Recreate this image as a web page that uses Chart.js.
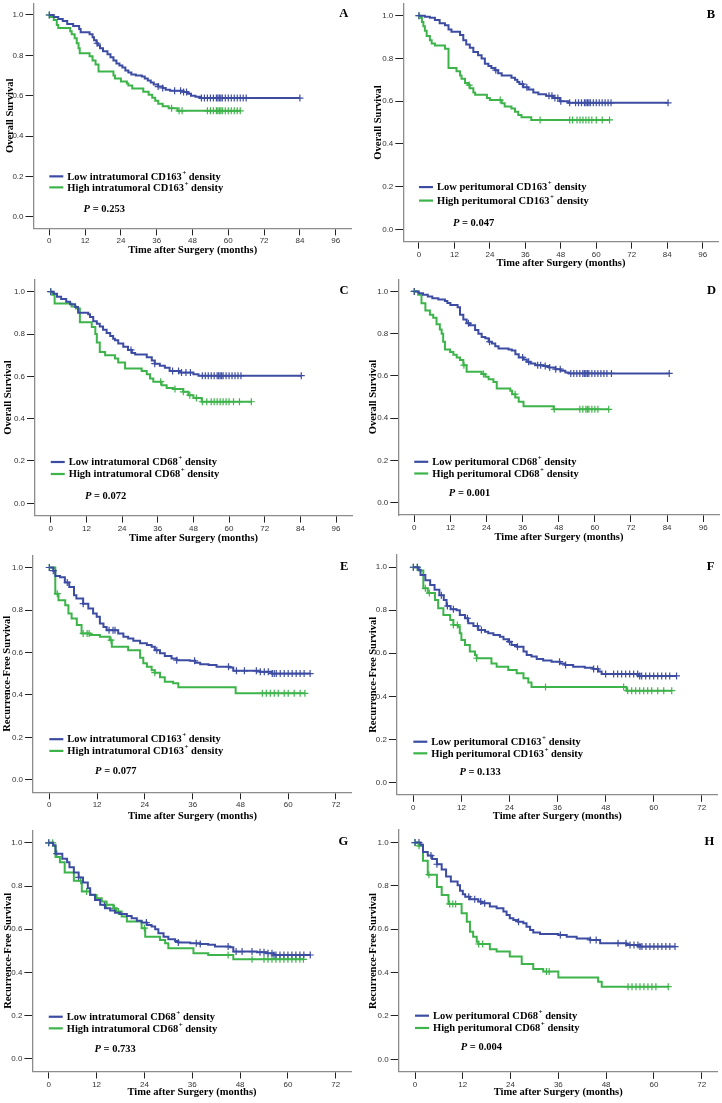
<!DOCTYPE html>
<html>
<head>
<meta charset="utf-8">
<script src="https://cdn.jsdelivr.net/npm/chart.js@4.4.1/dist/chart.umd.min.js"></script>
<style>
  body { margin: 0; background: #fff; width: 722px; height: 1103px; position: relative; overflow: hidden; }
  canvas { position: absolute; }
</style>
</head>
<body>
<script>
// tick labels
const osTicks = [0, 12, 24, 36, 48, 60, 72, 84, 96];
const rfsTicks = [0, 12, 24, 36, 48, 60, 72];
const survTicks = [0, 0.2, 0.4, 0.6, 0.8, 1.0];

const panelLetters = ['A', 'B', 'C', 'D', 'E', 'F', 'G', 'H'];
const yTitles = ['Overall Survival', 'Overall Survival', 'Overall Survival', 'Overall Survival',
  'Recurrence-Free Survival', 'Recurrence-Free Survival', 'Recurrence-Free Survival', 'Recurrence-Free Survival'];
const lowLabels = ['Low intratumoral CD163', 'Low peritumoral CD163', 'Low intratumoral CD68', 'Low peritumoral CD68',
  'Low intratumoral CD163', 'Low peritumoral CD163', 'Low intratumoral CD68', 'Low peritumoral CD68'];
const highLabels = ['High intratumoral CD163', 'High peritumoral CD163', 'High intratumoral CD68', 'High peritumoral CD68',
  'High intratumoral CD163', 'High peritumoral CD163', 'High intratumoral CD68', 'High peritumoral CD68'];
const pValues = ['0.253', '0.047', '0.072', '0.001', '0.077', '0.133', '0.733', '0.004'];

// KM steps: [month, survival after the drop]; censor times in months
const aLow = [[0,1],[1.5,0.99],[3,0.98],[4.5,0.97],[6,0.955],[8,0.945],[10,0.93],[10.5,0.915],[13.5,0.905],[14.5,0.89],[15,0.875],[15.8,0.86],[16.3,0.85],[17,0.835],[18,0.82],[19.5,0.805],[20.5,0.79],[21.5,0.775],[22.5,0.76],[23.5,0.75],[24.5,0.74],[25.5,0.725],[26.5,0.715],[27.5,0.705],[29,0.7],[31,0.695],[32,0.685],[33,0.675],[34,0.665],[35,0.655],[36.5,0.645],[38,0.638],[39,0.63],[40.5,0.625],[45,0.618],[46.5,0.61],[47.5,0.6],[49,0.595],[50.5,0.588],[84,0.588]];
const aLowCens = [0,16,36.5,38,42,44,45,46,51,52,53,54,55,56,56.5,57,57.5,58,59,60,61,62,63,64,65,66,84];
const aHigh = [[0,1],[0.5,0.99],[1.5,0.975],[2.5,0.95],[3,0.935],[7,0.92],[7.5,0.905],[8.5,0.885],[9.2,0.86],[9.8,0.835],[10.2,0.81],[13.5,0.795],[14.5,0.775],[15.5,0.755],[16.5,0.72],[21.5,0.7],[22,0.685],[24,0.67],[26,0.66],[26.5,0.65],[27.8,0.635],[31.5,0.62],[33.3,0.605],[34.5,0.59],[35.5,0.575],[36.5,0.56],[38,0.548],[40,0.538],[43,0.525],[64,0.525]];
const aHighCens = [0,41,43.5,44.5,53,54,55,56,56.5,57,57.5,58,59,60,61,62,63,64];

const bLow = [[0,1],[2,0.995],[3.7,0.99],[5.4,0.98],[7,0.965],[8.8,0.955],[10,0.935],[11,0.925],[13.9,0.91],[15,0.885],[16,0.865],[17.2,0.85],[18.4,0.83],[20,0.815],[21.2,0.8],[22.3,0.775],[23.5,0.765],[24.5,0.755],[25.7,0.745],[26.8,0.73],[28,0.72],[31.3,0.71],[32.5,0.7],[33.3,0.69],[34,0.68],[35.3,0.665],[37,0.655],[38.7,0.64],[40.4,0.632],[43,0.625],[45.4,0.615],[47.7,0.6],[50.5,0.592],[84.3,0.592]];
const bLowCens = [0,26,35,36.5,44,45,46,47,48,51,53,54,55,56,56.5,57,57.5,58,59,60,61,62,63,64,65,84.3];
const bHigh = [[0,1],[0.5,0.99],[1,0.97],[1.5,0.95],[2,0.93],[2.6,0.905],[3.7,0.885],[4.3,0.87],[5.4,0.86],[8.8,0.845],[10,0.755],[12.7,0.74],[13.9,0.72],[14.4,0.705],[15.6,0.685],[16.7,0.675],[17.2,0.66],[18.4,0.64],[19,0.63],[23,0.615],[24,0.605],[28,0.59],[29,0.575],[31.3,0.565],[32.5,0.55],[33.6,0.535],[34.7,0.525],[38,0.512],[64.5,0.512]];
const bHighCens = [0,17,27.5,41,51,52,53.5,54.5,55.5,56.5,57.5,58.5,60,62,64.5];

const cLow = [[0,1],[1,0.99],[2.1,0.976],[3.5,0.965],[5.2,0.952],[6.5,0.94],[8.2,0.928],[9.2,0.9],[12.6,0.893],[13.2,0.88],[14.3,0.86],[15.5,0.848],[16.5,0.835],[17.6,0.82],[18.8,0.805],[20,0.79],[21,0.778],[21.6,0.77],[22.7,0.755],[24.4,0.74],[26,0.725],[27.3,0.71],[28.4,0.703],[32.3,0.69],[34,0.675],[35,0.66],[36.7,0.65],[38.4,0.64],[40,0.625],[43.5,0.618],[48,0.61],[49.7,0.603],[84.3,0.603]];
const cLowCens = [0,27,35,41,43,44,45.5,47,51,52,53,54,55,56,56.5,57,57.5,58,59,60,61,62,63,64,84.3];
const cHigh = [[0,1],[0.5,0.985],[1.3,0.944],[7,0.93],[8.5,0.92],[9.8,0.855],[13.8,0.833],[15,0.8],[15.5,0.76],[16.5,0.715],[18.3,0.7],[21.6,0.684],[22.7,0.665],[25,0.637],[30.6,0.625],[32.3,0.61],[33.4,0.59],[34.5,0.575],[37.3,0.558],[39,0.545],[41.3,0.54],[44.6,0.527],[46.3,0.511],[48,0.498],[50.8,0.48],[67.5,0.48]];
const cHighCens = [0,37,41.8,44.6,46.8,49,51,52.5,54,55,56,57,58,59,60,61.5,63.5,67.5];

const dLow = [[0,1],[1.5,0.992],[2.9,0.984],[4.5,0.976],[6,0.968],[8,0.962],[10.2,0.955],[11,0.945],[12,0.936],[14.4,0.925],[15.2,0.89],[16.3,0.867],[17.4,0.85],[18.5,0.84],[20.2,0.817],[21.3,0.8],[22.4,0.785],[23.6,0.778],[24.7,0.762],[25.8,0.754],[26.9,0.741],[28,0.73],[31.3,0.725],[32.4,0.72],[33.6,0.703],[34.7,0.688],[36.3,0.678],[37.4,0.667],[38.6,0.659],[40.2,0.651],[43,0.647],[44.7,0.64],[46.9,0.632],[48.6,0.625],[50.2,0.617],[51.3,0.612],[84.7,0.612]];
const dLowCens = [0,18,25,36,38,41,42,43.5,45,47,48.5,52,53,54,55,56,56.5,57,57.5,58,59,60,61,62,63,64,65.5,84.7];
const dHigh = [[0,1],[1.3,0.984],[2.4,0.944],[3.7,0.91],[5.2,0.89],[6.3,0.875],[7.4,0.845],[8.5,0.82],[9.1,0.8],[9.6,0.762],[10.2,0.725],[11.9,0.714],[13,0.7],[14.1,0.688],[15.2,0.675],[16.3,0.651],[17.4,0.62],[22.4,0.609],[23.6,0.596],[24.7,0.585],[26.3,0.572],[27.4,0.541],[31.9,0.53],[32.5,0.514],[33.6,0.498],[34.7,0.478],[36.3,0.457],[46.3,0.442],[64.6,0.442]];
const dHighCens = [0,16.5,23,33.5,46.5,55,56,57,57.5,58,59,60,61,64.6];

const eLow = [[0,1],[1,0.985],[1.5,0.96],[2.7,0.954],[3.9,0.93],[5,0.908],[6.2,0.87],[6.8,0.854],[8.5,0.83],[9.8,0.807],[11,0.784],[11.9,0.768],[12.7,0.737],[13.6,0.72],[14.4,0.705],[17.3,0.69],[18.6,0.674],[19.8,0.666],[21.1,0.655],[22.8,0.643],[24.5,0.635],[25.7,0.627],[26.5,0.611],[27.8,0.596],[29,0.583],[30.7,0.572],[32,0.564],[35.3,0.561],[36.6,0.552],[37.9,0.545],[40,0.541],[42,0.533],[45.4,0.53],[46.2,0.514],[52.9,0.509],[55.9,0.501],[65.5,0.501]];
const eLowCens = [0,1,4.5,8.5,15,16,16.5,27,32,36.5,45,47,49,52,53,54,55,56,56.5,57,58,59,60,61,62,63,64,65.5];
const eHigh = [[0,1],[1.5,0.877],[2.3,0.846],[4,0.823],[4.8,0.784],[5.6,0.76],[6.9,0.729],[8.1,0.69],[10.2,0.682],[12.7,0.674],[15.2,0.658],[15.7,0.627],[19.8,0.611],[22.8,0.575],[23.6,0.549],[24.5,0.533],[25.7,0.517],[26.5,0.505],[27.8,0.483],[29,0.462],[31.1,0.455],[32.4,0.436],[46.8,0.408],[64.2,0.408]];
const eHighCens = [0,2,8.5,9.5,10,15.5,26.5,53.5,54.5,55.5,56.5,57.5,59,60,61.5,63,64.2];

const fLow = [[0,1],[1.3,0.988],[1.8,0.964],[3,0.94],[4.2,0.918],[5.3,0.895],[6.5,0.87],[7.6,0.848],[8.3,0.82],[9.3,0.805],[10.8,0.8],[11.6,0.778],[12.9,0.763],[13.7,0.74],[15,0.727],[16.2,0.708],[17.9,0.7],[18.7,0.693],[20,0.685],[21.6,0.677],[22.5,0.665],[23.7,0.654],[24.5,0.639],[25.8,0.631],[27.5,0.608],[28.3,0.592],[29.5,0.585],[30.8,0.574],[32.4,0.566],[34.5,0.561],[36.6,0.553],[37.9,0.546],[39.9,0.538],[42.8,0.533],[44.9,0.527],[46.2,0.515],[47,0.504],[56.2,0.495],[65.7,0.495]];
const fLowCens = [0,1,7,8.5,10,13.5,16,17,24,26,36.5,38,45,46,48,50,51,52,53,54,55,56,56.5,57,58,59,60,61,62,63,64,65.7];
const fHigh = [[0,1],[1.3,0.985],[2.5,0.902],[3.6,0.88],[5.4,0.848],[6.2,0.81],[7.5,0.778],[9.2,0.755],[10,0.732],[11.2,0.724],[11.6,0.693],[12,0.662],[12.9,0.639],[14.1,0.608],[15.4,0.592],[15.8,0.577],[19.5,0.553],[20.8,0.538],[23.7,0.522],[25.8,0.507],[27.5,0.484],[28.7,0.464],[29.5,0.443],[53.2,0.426],[64.5,0.426]];
const fHighCens = [0,1,3,4,10,11,15.8,33,52.5,53.5,54.5,55.5,56.5,57.5,58.5,59.5,61,62.5,64.5];

const gLow = [[0,1],[1.1,0.989],[1.7,0.95],[3.4,0.926],[4.6,0.91],[5.2,0.887],[6.3,0.863],[7.5,0.84],[8.6,0.816],[9.8,0.79],[10.4,0.76],[11.6,0.735],[12.9,0.713],[14.1,0.697],[15.4,0.687],[16.6,0.677],[17.9,0.671],[19.6,0.662],[20.8,0.651],[22.1,0.64],[23.3,0.631],[24.6,0.62],[25.8,0.613],[26.7,0.6],[27.5,0.582],[28.8,0.566],[30,0.554],[31.7,0.546],[32.5,0.539],[35.5,0.535],[38,0.532],[40,0.528],[41.7,0.52],[45.5,0.517],[46.3,0.497],[52.2,0.494],[54.7,0.489],[56.4,0.481],[65.6,0.481]];
const gLowCens = [0,2,7.5,14,24.5,32.5,37,38,45,47,48.5,51,53,54,55,56,56.5,57,58,59,60,61,62,63,64,65.6];
const gHigh = [[0,1],[1.1,0.985],[1.7,0.934],[2.8,0.91],[4,0.863],[6.3,0.824],[8.3,0.775],[10.4,0.759],[12,0.744],[13.3,0.728],[14.5,0.713],[16.2,0.697],[17,0.682],[18.3,0.659],[19.6,0.636],[23.3,0.605],[24.2,0.566],[27.9,0.551],[29.2,0.535],[30,0.512],[36.3,0.489],[40,0.481],[46.3,0.461],[63.9,0.461]];
const gHighCens = [0,1,8,9.5,14.5,16.5,17.5,24,45,51,54,55,56,57,58,59,60,61,62,63,63.9];

const hLow = [[0,1],[1.4,0.99],[2,0.956],[3.2,0.94],[4.3,0.924],[5.5,0.9],[6.7,0.876],[7.8,0.844],[9,0.82],[10.7,0.803],[11.3,0.778],[12,0.762],[12.6,0.75],[13.8,0.738],[15.9,0.728],[16.7,0.72],[18.8,0.705],[20.5,0.697],[22.2,0.682],[23,0.666],[23.8,0.651],[24.7,0.643],[25.9,0.635],[27.2,0.628],[28,0.612],[28.9,0.597],[29.7,0.585],[31.4,0.578],[36,0.574],[38.1,0.566],[40.6,0.558],[44,0.551],[46.5,0.535],[53.1,0.528],[56.5,0.52],[65.3,0.52]];
const hLowCens = [0,1,4,5.5,13.5,15,16.5,17.5,26,36.5,44,45.5,51,53,54,55,56,56.5,57,58,59,60,61,62,63,64,65.3];
const hHigh = [[0,1],[0.9,0.985],[2,0.916],[3.2,0.852],[5.5,0.795],[6.7,0.758],[8.4,0.717],[11.7,0.674],[13,0.635],[13.8,0.589],[14.6,0.566],[15.5,0.543],[15.9,0.532],[18.8,0.508],[20.5,0.497],[23.8,0.474],[26.8,0.44],[29.7,0.417],[32.2,0.405],[36,0.378],[46,0.358],[46.9,0.335],[63.6,0.335]];
const hHighCens = [0,1,3.5,8.7,9.5,10.2,16,17,33,33.7,53.5,54.5,55.5,56.5,57.5,58.5,59.5,60.5,63.6];

const curves = [
  [aLow, aLowCens, aHigh, aHighCens], [bLow, bLowCens, bHigh, bHighCens],
  [cLow, cLowCens, cHigh, cHighCens], [dLow, dLowCens, dHigh, dHighCens],
  [eLow, eLowCens, eHigh, eHighCens], [fLow, fLowCens, fHigh, fHighCens],
  [gLow, gLowCens, gHigh, gHighCens], [hLow, hLowCens, hHigh, hHighCens]
];

// page geometry of each panel (plot area edges, title spots, legend offsets)
const boxes = [
  { left: 0,   L: 33.5,  R: 351.8, T: 3.3,   B: 228.4,  titleY: 250,    yTitleX: 10,   leg: [0, 11, 33] },
  { left: 361, L: 403.3, R: 718.6, T: 3.3,   B: 241.7,  titleY: 263,    yTitleX: 17.3, leg: [0.5, 14, 36.5] },
  { left: 0,   L: 35,    R: 352.1, T: 279.4, B: 515.6,  titleY: 538.7,  yTitleX: 8.3,  leg: [1, 13, 35] },
  { left: 361, L: 398.3, R: 719.5, T: 279.2, B: 515,    titleY: 537.7,  yTitleX: 12.3, leg: [1.3, 13, 32.3] },
  { left: 0,   L: 33,    R: 351.9, T: 555.2, B: 792.3,  titleY: 816,    yTitleX: 7.5,  leg: [1.7, 13.4, 34] },
  { left: 361, L: 396.9, R: 717.8, T: 554.8, B: 794.8,  titleY: 816,    yTitleX: 12.3, leg: [2.4, 14, 33] },
  { left: 0,   L: 32.4,  R: 351.7, T: 830.3, B: 1071.5, titleY: 1092.7, yTitleX: 8,    leg: [1, 12.6, 33.3] },
  { left: 361, L: 398.7, R: 717.6, T: 830,   B: 1071.9, titleY: 1092.7, yTitleX: 12.3, leg: [-0.3, 12, 31.4] }
];

const BLUE = '#3c4ca2';
const GREEN = '#3db44a';
const SERIF = '"Liberation Serif", "Times New Roman", serif';
const TEXT_FONT = 'bold 10.5px ' + SERIF;

function stepAt(steps, t) {
  let s = steps[0][1];
  for (const [tt, ss] of steps) if (tt <= t) s = ss;
  return s;
}

function drawSup(ctx, x, y, base, tail) {
  ctx.font = TEXT_FONT;
  ctx.fillText(base, x, y);
  let w = ctx.measureText(base).width + 0.5;
  ctx.font = 'bold 7px ' + SERIF;
  ctx.fillText('+', x + w, y - 4);
  w += ctx.measureText('+').width;
  ctx.font = TEXT_FONT;
  ctx.fillText(tail, x + w, y);
}

const decor = {
  id: 'decor',
  afterDraw(chart, args, o) {
    const { ctx, chartArea } = chart;
    const xs = chart.scales.x, ys = chart.scales.y;
    ctx.save();
    ctx.fillStyle = '#000';
    ctx.textBaseline = 'middle';

    ctx.font = 'bold 12.5px ' + SERIF;
    ctx.textAlign = 'right';
    ctx.fillText(o.letter, chartArea.right - 3.5, ys.getPixelForValue(1) - 1);

    ctx.textAlign = 'left';
    const x0 = xs.getPixelForValue(0);
    const yb = ys.getPixelForValue(0.2);
    const rows = [[o.low, BLUE, o.leg[0]], [o.high, GREEN, o.leg[1]]];
    for (const [label, col, dy] of rows) {
      ctx.strokeStyle = col;
      ctx.lineWidth = 2.2;
      ctx.beginPath();
      ctx.moveTo(x0, yb + dy);
      ctx.lineTo(x0 + 14, yb + dy);
      ctx.stroke();
      drawSup(ctx, x0 + 18, yb + dy + 0.5, label, ' density');
    }

    const px = xs.getPixelForValue(11.5);
    const py = yb + o.leg[2];
    ctx.font = 'italic bold 10.5px ' + SERIF;
    ctx.fillText('P', px, py);
    const pw = ctx.measureText('P').width;
    ctx.font = TEXT_FONT;
    ctx.fillText(' = ' + o.p, px + pw, py);
    ctx.restore();
  }
};

function lineSet(steps, col) {
  return {
    data: steps.map(([x, y]) => ({ x, y })),
    showLine: true, stepped: 'before', borderColor: col, borderWidth: 2,
    pointRadius: 0, pointHoverRadius: 0, fill: false
  };
}

function censorSet(steps, cens, col) {
  return {
    data: cens.map(t => ({ x: t, y: stepAt(steps, t) })),
    showLine: false, pointStyle: 'cross', pointRadius: 3.5, pointHoverRadius: 3.5,
    borderColor: col, backgroundColor: col, borderWidth: 1.2
  };
}

boxes.forEach((bx, i) => {
  const isOS = i < 4;
  const canvasTop = Math.round(bx.T) - 8;
  const canvasH = Math.round(bx.titleY + 9) - canvasTop;
  const canvasW = 361;
  const cv = document.createElement('canvas');
  cv.width = canvasW;
  cv.height = canvasH;
  cv.style.left = bx.left + 'px';
  cv.style.top = canvasTop + 'px';
  cv.style.width = canvasW + 'px';
  cv.style.height = canvasH + 'px';
  document.body.appendChild(cv);

  const yAxisW = bx.L - bx.left;
  const xAxisH = canvasH - (bx.B - canvasTop);
  const titleFont = { family: SERIF, weight: 'bold', size: 10.5, lineHeight: 1.2 };
  const lh = 12.6;
  const [low, lowC, high, highC] = curves[i];
  const xTicks = isOS ? osTicks : rfsTicks;

  new Chart(cv, {
    type: 'scatter',
    data: {
      datasets: [lineSet(low, BLUE), lineSet(high, GREEN), censorSet(low, lowC, BLUE), censorSet(high, highC, GREEN)]
    },
    options: {
      responsive: false,
      animation: false,
      devicePixelRatio: 1,
      layout: {
        autoPadding: false,
        padding: { left: 0, top: bx.T - canvasTop, right: bx.left + canvasW - bx.R, bottom: 0 }
      },
      plugins: {
        legend: { display: false },
        tooltip: { enabled: false },
        decor: { letter: panelLetters[i], low: lowLabels[i], high: highLabels[i], p: pValues[i], leg: bx.leg }
      },
      scales: {
        x: {
          type: 'linear',
          min: isOS ? -5.3 : -4.1,
          max: isOS ? 101.4 : 76,
          afterBuildTicks: s => { s.ticks = xTicks.map(v => ({ value: v })); },
          afterFit: s => { s.height = xAxisH; },
          ticks: { autoSkip: false, maxRotation: 0, padding: 1, color: '#333', font: { family: '"Liberation Sans", Arial, sans-serif', size: 8 }, callback: v => String(v) },
          grid: { drawOnChartArea: false, drawTicks: true, tickLength: 7, color: '#222', lineWidth: 1 },
          border: { display: true, color: '#8c8c8c', width: 1.3 },
          title: {
            display: true, text: 'Time after Surgery (months)', color: '#000', font: titleFont,
            padding: { top: 0, bottom: canvasH - (bx.titleY - canvasTop) - lh / 2 }
          }
        },
        y: {
          type: 'linear',
          min: -0.058,
          max: 1.058,
          afterBuildTicks: s => { s.ticks = survTicks.map(v => ({ value: v })); },
          afterFit: s => { s.width = yAxisW; },
          ticks: { padding: 2, color: '#333', font: { family: '"Liberation Sans", Arial, sans-serif', size: 8 }, callback: v => Number(v).toFixed(1) },
          grid: { drawOnChartArea: false, drawTicks: true, tickLength: 8, color: '#222', lineWidth: 1 },
          border: { display: true, color: '#8c8c8c', width: 1.3 },
          title: {
            display: true, text: yTitles[i], color: '#000', font: titleFont,
            padding: { top: bx.yTitleX - lh / 2, bottom: 0 }
          }
        }
      }
    },
    plugins: [decor]
  });
});
</script>
</body>
</html>
